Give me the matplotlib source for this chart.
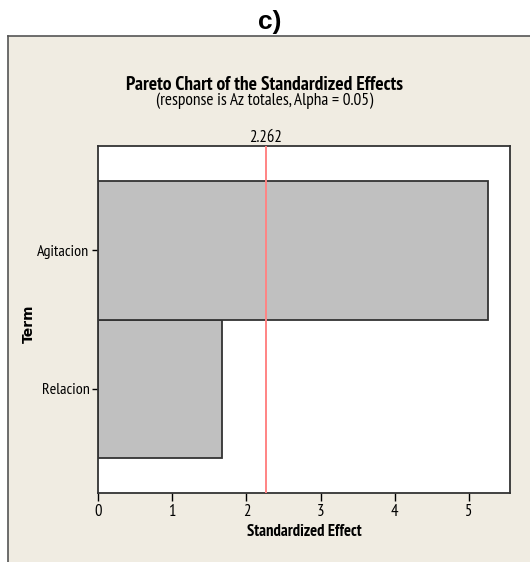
import matplotlib
matplotlib.use("Agg")
import matplotlib.pyplot as plt
from matplotlib.patches import Rectangle
from matplotlib.lines import Line2D

terms = ["Relacion", "Agitacion"]
effects = [1.67, 5.25]
critical = 2.262
xticks = [0, 1, 2, 3, 4, 5]

fam = ["PT Sans Narrow", "DejaVu Sans"]
plt.rcParams['font.family'] = fam

W, H = 530, 562
fig = plt.figure(figsize=(W/100, H/100), dpi=100)
fig.patch.set_facecolor("white")

# panel background
panel = Rectangle((8/W, 0), 1 - 8/W, 1 - 36/H, transform=fig.transFigure,
                  facecolor="#F0ECE2", edgecolor="none", zorder=-5)
fig.add_artist(panel)
fig.add_artist(Line2D([8/W, 8/W], [0, 1 - 36/H], transform=fig.transFigure, color="#555555", lw=1.2, zorder=-4))
fig.add_artist(Line2D([8/W, 1], [1 - 36/H, 1 - 36/H], transform=fig.transFigure, color="#555555", lw=1.2, zorder=-4))

l, r, t, b = 98, 510, 146, 493
ax = fig.add_axes([l/W, 1 - b/H, (r - l)/W, (b - t)/H])
ax.set_zorder(2)
ax.set_facecolor("white")
ax.barh(range(len(terms)), effects, height=1.0, color="#C0C0C0", edgecolor="#333333", linewidth=1.3, zorder=2)
ax.axvline(critical, color="#FF8484", lw=1.4, zorder=3)
ax.set_xlim(0, 5.55)
ax.set_ylim(-0.75, 1.75)
ax.set_yticks(range(len(terms)))
ax.set_yticklabels(terms, fontsize=11.5)
ax.set_xticks(xticks)
ax.set_xticklabels([str(v) for v in xticks], fontsize=12)
ax.tick_params(axis='x', length=6, width=1, direction='out', pad=2)
ax.tick_params(axis='y', length=4, width=1, direction='out', pad=2)
for s in ax.spines.values():
    s.set_color("#333333")
    s.set_linewidth(1.3)
ax.set_xlabel("Standardized Effect", fontsize=12, fontweight="bold", labelpad=3)

fig.text(29/W, 1 - 324/H, "Term", rotation=90, ha="center", va="center",
         fontsize=10, fontweight="bold", family=["DejaVu Sans"])
fig.text(270/W, 1 - 22/H, "c)", ha="center", va="center", fontsize=19,
         fontweight="bold", family=["Liberation Sans", "DejaVu Sans"])
fig.text(265/W, 1 - 85/H, "Pareto Chart of the Standardized Effects", ha="center", va="center",
         fontsize=14, fontweight="bold")
fig.text(265/W, 1 - 101/H, "(response is Az totales, Alpha = 0.05)", ha="center", va="center",
         fontsize=12.5)
ax.text(critical, 1.75, "2.262", transform=ax.transData, ha="center", va="bottom", fontsize=12)

fig.savefig("out.png", dpi=100, facecolor=fig.get_facecolor())
